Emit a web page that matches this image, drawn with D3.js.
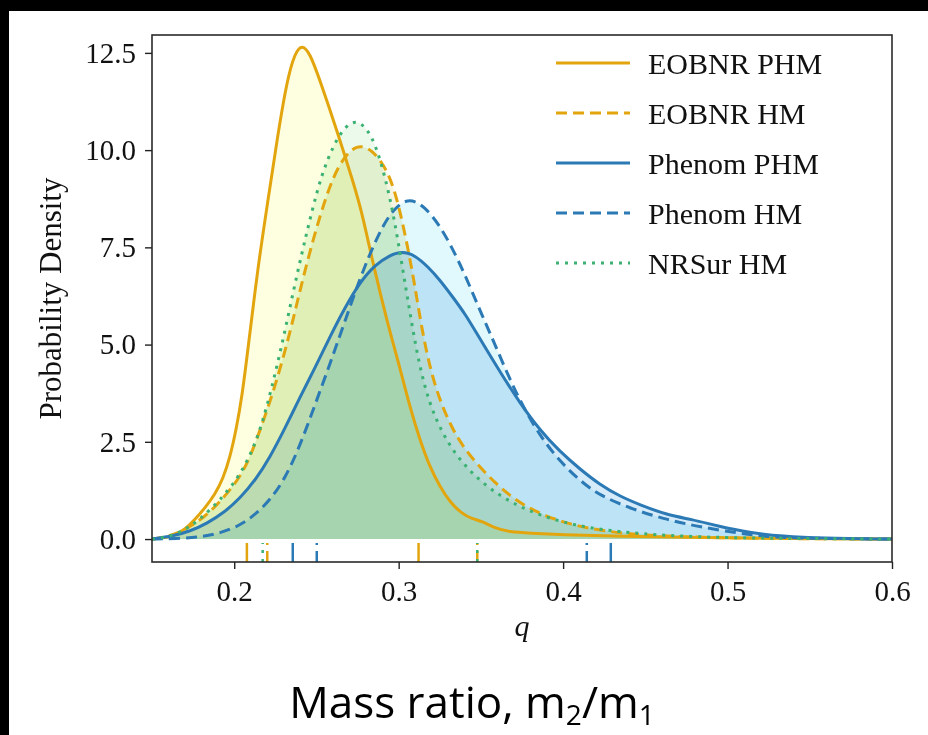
<!DOCTYPE html>
<html>
<head>
<meta charset="utf-8">
<script src="https://cdn.jsdelivr.net/npm/d3@7"></script>
<style>
  body { margin: 0; background: #fff; }
  svg { display: block; }
  .tick text { font-family: "Liberation Serif", serif; font-size: 29px; fill: #111; }
  .tick line { stroke: #222; stroke-width: 1.4; }
  .domain { display: none; }
</style>
</head>
<body>
<div id="vis"></div>
<script>
var width = 928;
var height = 735;
var plot = { left: 152, right: 892, top: 35, bottom: 562 };

// axis ticks
var qTicks = [0.2, 0.3, 0.4, 0.5, 0.6];
var densityTicks = [0, 2.5, 5, 7.5, 10, 12.5];

var seriesNames = ['EOBNR PHM', 'EOBNR HM', 'Phenom PHM', 'Phenom HM', 'NRSur HM'];

// density curves
var eobnrPhmQ = [0.15, 0.1579, 0.164, 0.1701, 0.1761, 0.1822, 0.1883, 0.1932, 0.1974, 0.2011, 0.2047, 0.2084, 0.2144, 0.2205, 0.226, 0.2321, 0.2369, 0.2412, 0.246, 0.2521, 0.2625, 0.2722, 0.2777, 0.2843, 0.2929, 0.3008, 0.3068, 0.3129, 0.319, 0.3251, 0.3312, 0.3385, 0.3446, 0.3507, 0.3585, 0.3676, 0.3798, 0.398, 0.4345, 0.4831, 0.5439, 0.6];
var eobnrPhmDensity = [0, 0.03, 0.1, 0.25, 0.5, 0.8, 1.15, 1.55, 2.1, 2.8, 3.65, 4.9, 7.0, 8.7, 10.26, 11.8, 12.5, 12.72, 12.5, 11.8, 10.5, 9.2, 8.4, 7.1, 5.6, 4.4, 3.4, 2.55, 1.85, 1.35, 0.95, 0.65, 0.52, 0.46, 0.28, 0.18, 0.15, 0.11, 0.07, 0.04, 0.01, 0];

var eobnrHmQ = [0.15, 0.1591, 0.167, 0.1731, 0.1822, 0.1895, 0.1962, 0.2035, 0.2096, 0.2157, 0.2248, 0.2339, 0.24, 0.2479, 0.2564, 0.2643, 0.2746, 0.2843, 0.2929, 0.2989, 0.3056, 0.3099, 0.3141, 0.319, 0.3251, 0.3324, 0.3403, 0.3494, 0.3585, 0.3676, 0.3767, 0.3889, 0.4041, 0.4223, 0.4467, 0.4831, 0.5318, 0.6];
var eobnrHmDensity = [0, 0.06, 0.18, 0.32, 0.58, 0.88, 1.2, 1.6, 2.1, 2.8, 3.9, 5.3, 6.4, 7.7, 8.9, 9.7, 10.18, 10.0, 9.5, 8.8, 7.5, 6.5, 5.4, 4.4, 3.55, 2.85, 2.3, 1.85, 1.45, 1.12, 0.85, 0.6, 0.38, 0.22, 0.1, 0.04, 0.01, 0];

var phenomPhmQ = [0.15, 0.1628, 0.1731, 0.1834, 0.1944, 0.2035, 0.2126, 0.2217, 0.2309, 0.24, 0.2491, 0.2582, 0.2673, 0.2764, 0.2856, 0.2947, 0.302, 0.3099, 0.3178, 0.3251, 0.3324, 0.3403, 0.3494, 0.3616, 0.3737, 0.3859, 0.398, 0.4102, 0.4223, 0.4345, 0.4467, 0.4631, 0.4789, 0.4935, 0.5135, 0.5336, 0.5561, 0.6];
var phenomPhmDensity = [0, 0.08, 0.2, 0.4, 0.7, 1.05, 1.5, 2.1, 2.85, 3.65, 4.4, 5.2, 5.95, 6.6, 7.05, 7.3, 7.4, 7.3, 7.0, 6.66, 6.25, 5.8, 5.15, 4.3, 3.5, 2.8, 2.25, 1.8, 1.4, 1.1, 0.88, 0.62, 0.5, 0.34, 0.16, 0.07, 0.02, 0];

var phenomHmQ = [0.15, 0.164, 0.1792, 0.1913, 0.2035, 0.2126, 0.2217, 0.2309, 0.24, 0.2491, 0.2582, 0.2673, 0.2764, 0.2856, 0.2947, 0.3056, 0.3160, 0.3251, 0.3324, 0.3403, 0.3482, 0.3555, 0.3646, 0.3737, 0.3859, 0.398, 0.4102, 0.4223, 0.4424, 0.4631, 0.4831, 0.5073, 0.5237, 0.5439, 0.6];
var phenomHmDensity = [0, 0.01, 0.05, 0.15, 0.35, 0.62, 1.0, 1.55, 2.4, 3.45, 4.5, 5.6, 6.7, 7.65, 8.4, 8.8, 8.55, 8.05, 7.5, 6.8, 6.0, 5.3, 4.4, 3.55, 2.65, 2.0, 1.5, 1.12, 0.76, 0.5, 0.31, 0.15, 0.06, 0.02, 0];

var nrsurHmQ = [0.15, 0.1549, 0.1609, 0.167, 0.1731, 0.1792, 0.1865, 0.1944, 0.2035, 0.2108, 0.2169, 0.2229, 0.2296, 0.2381, 0.2442, 0.2503, 0.2564, 0.2643, 0.2716, 0.2777, 0.2837, 0.2886, 0.2947, 0.2995, 0.3038, 0.3081, 0.3129, 0.319, 0.3263, 0.3342, 0.3433, 0.3524, 0.3616, 0.3707, 0.3798, 0.392, 0.4071, 0.4223, 0.4467, 0.4831, 0.5196, 0.6];
var nrsurHmDensity = [0, 0.02, 0.08, 0.18, 0.32, 0.52, 0.8, 1.15, 1.65, 2.25, 2.95, 3.9, 5.1, 6.8, 7.9, 8.95, 9.75, 10.45, 10.75, 10.7, 10.35, 9.8, 8.8, 7.7, 6.6, 5.5, 4.4, 3.45, 2.75, 2.2, 1.75, 1.4, 1.12, 0.9, 0.72, 0.53, 0.36, 0.25, 0.13, 0.05, 0.02, 0];

// 90% interval bounds shown as rug ticks
var eobnrPhmInterval = [0.2077, 0.3121];
var eobnrHmInterval = [0.2201, 0.3478];
var phenomPhmInterval = [0.2356, 0.429];
var phenomHmInterval = [0.2502, 0.4144];
var nrsurHmInterval = [0.2173, 0.3478];

var seriesQ = [eobnrPhmQ, eobnrHmQ, phenomPhmQ, phenomHmQ, nrsurHmQ];
var seriesDensity = [eobnrPhmDensity, eobnrHmDensity, phenomPhmDensity, phenomHmDensity, nrsurHmDensity];
var seriesInterval = [eobnrPhmInterval, eobnrHmInterval, phenomPhmInterval, phenomHmInterval, nrsurHmInterval];

var lineColors = ['#e2a50e', '#e2a50e', '#2b79b5', '#2b79b5', '#3bb273'];
var fillColors = ['#fefee0', '#f5f5e1', '#d6ebf9', '#e1f8fc', '#ebfaeb'];
var dashes = [null, '11,6', null, '11,6', '3,6'];

var x = d3.scaleLinear().domain([0.15, 0.6]).range([plot.left, plot.right]);
var y = d3.scaleLinear().domain([-0.59, 12.96]).range([plot.bottom, plot.top]);

var svg = d3.select('#vis').append('svg')
  .attr('width', width)
  .attr('height', height);

svg.append('rect')
  .attr('width', width)
  .attr('height', height)
  .attr('fill', '#fff');

svg.append('defs').append('clipPath')
  .attr('id', 'clip')
  .append('rect')
  .attr('x', plot.left)
  .attr('y', plot.top)
  .attr('width', plot.right - plot.left)
  .attr('height', plot.bottom - plot.top);

var data = seriesNames.map(function (name, i) {
  return {
    name: name,
    values: seriesQ[i].map(function (q, j) { return { q: q, v: seriesDensity[i][j] }; }),
    interval: seriesInterval[i],
    color: lineColors[i],
    fill: fillColors[i],
    dash: dashes[i]
  };
});

var area = d3.area()
  .curve(d3.curveBasis)
  .x(function (d) { return x(d.q); })
  .y0(y(0))
  .y1(function (d) { return y(d.v); });

var line = d3.line()
  .curve(d3.curveBasis)
  .x(function (d) { return x(d.q); })
  .y(function (d) { return y(d.v); });

var g = svg.append('g')
  .attr('clip-path', 'url(#clip)')
  .style('isolation', 'isolate');

// shaded areas, multiplied so overlaps darken like the original
g.selectAll('.fill')
  .data(data)
  .enter()
  .append('path')
  .attr('class', 'fill')
  .attr('d', function (d) { return area(d.values); })
  .attr('fill', function (d) { return d.fill; })
  .style('mix-blend-mode', 'multiply');

g.selectAll('.kde')
  .data(data)
  .enter()
  .append('path')
  .attr('class', 'kde')
  .attr('d', function (d) { return line(d.values); })
  .attr('fill', 'none')
  .attr('stroke', function (d) { return d.color; })
  .attr('stroke-width', 3)
  .attr('stroke-dasharray', function (d) { return d.dash; });

// rug ticks for the intervals, drawn bottom-up
data.forEach(function (d) {
  g.selectAll(null)
    .data(d.interval)
    .enter()
    .append('line')
    .attr('x1', function (q) { return x(q); })
    .attr('x2', function (q) { return x(q); })
    .attr('y1', y(-0.59))
    .attr('y2', y(-0.1))
    .attr('stroke', d.color)
    .attr('stroke-width', 2.5)
    .attr('stroke-dasharray', d.dash);
});

svg.append('rect')
  .attr('x', plot.left)
  .attr('y', plot.top)
  .attr('width', plot.right - plot.left)
  .attr('height', plot.bottom - plot.top)
  .attr('fill', 'none')
  .attr('stroke', '#2a2a2a')
  .attr('stroke-width', 1.6);

svg.append('g')
  .attr('transform', 'translate(' + plot.left + ',0)')
  .call(d3.axisLeft(y).tickValues(densityTicks).tickFormat(d3.format('.1f')).tickSize(7).tickPadding(9));

svg.append('g')
  .attr('transform', 'translate(0,' + plot.bottom + ')')
  .call(d3.axisBottom(x).tickValues(qTicks).tickFormat(d3.format('.1f')).tickSize(7).tickPadding(11));

svg.append('text')
  .attr('transform', 'translate(61,' + (plot.top + plot.bottom) / 2 + ') rotate(-90)')
  .attr('text-anchor', 'middle')
  .style('font-family', '"Liberation Serif", serif')
  .style('font-size', '31px')
  .attr('fill', '#111')
  .text('Probability Density');

svg.append('text')
  .attr('x', (plot.left + plot.right) / 2)
  .attr('y', 636)
  .attr('text-anchor', 'middle')
  .style('font-family', '"Liberation Serif", serif')
  .style('font-style', 'italic')
  .style('font-size', '30px')
  .attr('fill', '#111')
  .text('q');

// legend
var legend = svg.append('g')
  .selectAll('g')
  .data(data)
  .enter()
  .append('g')
  .attr('transform', function (d, i) { return 'translate(556,' + (63 + i * 50) + ')'; });

legend.append('line')
  .attr('x1', 0)
  .attr('x2', 74)
  .attr('stroke', function (d) { return d.color; })
  .attr('stroke-width', 3)
  .attr('stroke-dasharray', function (d) { return d.dash; });

legend.append('text')
  .attr('x', 92)
  .attr('dy', '0.35em')
  .style('font-family', '"Liberation Serif", serif')
  .style('font-size', '30px')
  .attr('fill', '#111')
  .text(function (d) { return d.name; });

// slide caption under the figure
var caption = svg.append('text')
  .attr('x', 472)
  .attr('y', 718)
  .attr('text-anchor', 'middle')
  .style('font-family', '"Open Sans", sans-serif')
  .style('font-size', '44px')
  .attr('fill', '#000');
caption.append('tspan').text('Mass ratio, m');
caption.append('tspan').attr('dy', 7).style('font-size', '28px').text('2');
caption.append('tspan').attr('dy', -7).text('/m');
caption.append('tspan').attr('dy', 7).style('font-size', '28px').text('1');

// black video frame edges
svg.append('rect').attr('width', width).attr('height', 11).attr('fill', '#000');
svg.append('rect').attr('width', 9).attr('height', height).attr('fill', '#000');
</script>
</body>
</html>
